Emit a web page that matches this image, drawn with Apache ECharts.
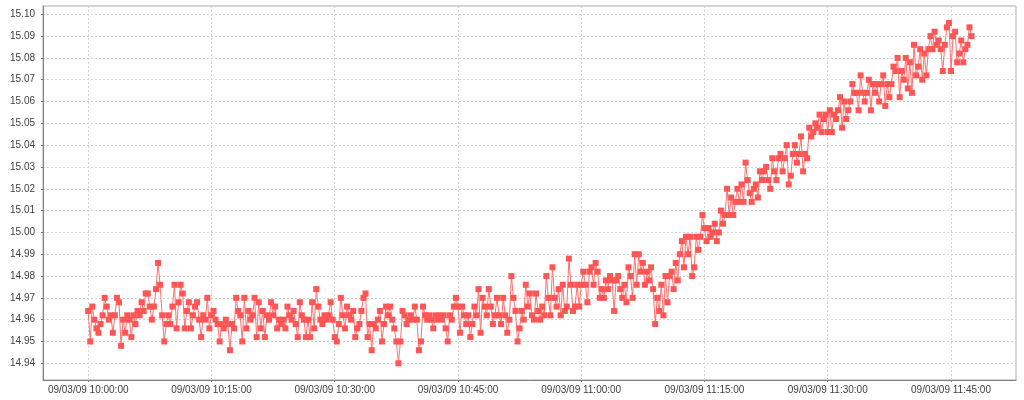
<!DOCTYPE html>
<html>
<head>
<meta charset="utf-8">
<script src="https://cdn.jsdelivr.net/npm/echarts@6/dist/echarts.min.js"></script>
<style>
html,body{margin:0;padding:0;background:#fff;}
#chart{width:1024px;height:400px;}
</style>
</head>
<body>
<div id="chart"></div>
<script>
// Sampling: one value every 15 seconds starting 09/03/09 10:00:00
const startTime = new Date(2009, 2, 9, 10, 0, 0).getTime();
const stepMs = 15000;

const block1000 = [
14.964, 14.950, 14.966, 14.960, 14.956, 14.954, 14.958, 14.962, 14.970, 14.966,
14.960, 14.962, 14.954, 14.962, 14.970, 14.968, 14.948, 14.960, 14.954, 14.962,
14.960, 14.952, 14.962, 14.958, 14.964, 14.962, 14.968, 14.964, 14.972, 14.972,
14.966, 14.960, 14.966, 14.974, 14.986, 14.976, 14.962, 14.950, 14.958, 14.962,
14.958, 14.966, 14.976, 14.956, 14.968, 14.976, 14.972, 14.956, 14.964, 14.968,
14.956, 14.962, 14.966, 14.968, 14.960, 14.952, 14.962, 14.960, 14.970, 14.956
];
const block1015 = [
14.962, 14.964, 14.960, 14.958, 14.950, 14.958, 14.956, 14.960, 14.958, 14.946,
14.958, 14.956, 14.970, 14.964, 14.962, 14.950, 14.970, 14.956, 14.964, 14.960,
14.962, 14.970, 14.952, 14.968, 14.956, 14.964, 14.952, 14.962, 14.960, 14.968,
14.962, 14.966, 14.956, 14.960, 14.958, 14.960, 14.956, 14.966, 14.962, 14.960,
14.964, 14.958, 14.952, 14.968, 14.962, 14.960, 14.952, 14.960, 14.952, 14.968,
14.956, 14.974, 14.966, 14.960, 14.958, 14.962, 14.960, 14.962, 14.968, 14.960
];
const block1030 = [
14.952, 14.950, 14.958, 14.970, 14.962, 14.956, 14.966, 14.962, 14.960, 14.964,
14.952, 14.956, 14.958, 14.964, 14.970, 14.972, 14.952, 14.958, 14.946, 14.958,
14.956, 14.960, 14.964, 14.950, 14.958, 14.966, 14.962, 14.966, 14.960, 14.956,
14.950, 14.940, 14.950, 14.964, 14.962, 14.958, 14.960, 14.962, 14.960, 14.966,
14.960, 14.946, 14.950, 14.966, 14.962, 14.960, 14.962, 14.960, 14.956, 14.962,
14.960, 14.962, 14.960, 14.962, 14.956, 14.950, 14.962, 14.960, 14.966, 14.970
];
const block1045 = [
14.966, 14.954, 14.966, 14.962, 14.958, 14.962, 14.952, 14.958, 14.966, 14.962,
14.974, 14.954, 14.970, 14.966, 14.962, 14.974, 14.966, 14.958, 14.962, 14.970,
14.962, 14.958, 14.970, 14.962, 14.954, 14.960, 14.980, 14.970, 14.964, 14.950,
14.956, 14.964, 14.960, 14.976, 14.966, 14.972, 14.962, 14.960, 14.972, 14.964,
14.960, 14.966, 14.962, 14.980, 14.970, 14.962, 14.984, 14.970, 14.966, 14.974,
14.962, 14.976, 14.964, 14.966, 14.988, 14.976, 14.964, 14.966, 14.976, 14.966
];
const block1100 = [
14.976, 14.982, 14.976, 14.968, 14.982, 14.984, 14.976, 14.986, 14.982, 14.970,
14.974, 14.970, 14.978, 14.974, 14.980, 14.978, 14.964, 14.978, 14.980, 14.974,
14.970, 14.976, 14.968, 14.984, 14.980, 14.970, 14.990, 14.976, 14.990, 14.982,
14.986, 14.976, 14.982, 14.978, 14.984, 14.974, 14.958, 14.970, 14.964, 14.976,
14.962, 14.980, 14.968, 14.980, 14.982, 14.974, 14.986, 14.978, 14.990, 14.996,
14.984, 14.998, 14.990, 14.998, 14.980, 14.984, 14.998, 14.992, 14.998, 15.008
];
const block1115 = [
15.002, 14.996, 15.002, 14.998, 15.000, 15.004, 14.996, 15.000, 15.010, 15.004,
15.008, 15.020, 15.008, 15.016, 15.008, 15.014, 15.020, 15.014, 15.022, 15.014,
15.032, 15.024, 15.018, 15.014, 15.020, 15.022, 15.016, 15.028, 15.024, 15.028,
15.030, 15.024, 15.020, 15.034, 15.028, 15.024, 15.034, 15.036, 15.028, 15.034,
15.040, 15.022, 15.026, 15.036, 15.040, 15.032, 15.036, 15.044, 15.028, 15.036,
15.034, 15.048, 15.044, 15.046, 15.050, 15.048, 15.054, 15.046, 15.052, 15.054
];
const block1130 = [
15.046, 15.056, 15.046, 15.054, 15.052, 15.056, 15.062, 15.048, 15.060, 15.052,
15.056, 15.060, 15.068, 15.064, 15.064, 15.056, 15.072, 15.064, 15.060, 15.064,
15.070, 15.056, 15.068, 15.064, 15.068, 15.060, 15.068, 15.072, 15.058, 15.068,
15.062, 15.068, 15.076, 15.074, 15.080, 15.062, 15.074, 15.070, 15.080, 15.066,
15.078, 15.064, 15.086, 15.072, 15.076, 15.084, 15.070, 15.082, 15.072, 15.084,
15.090, 15.084, 15.092, 15.086, 15.088, 15.084, 15.074, 15.086, 15.094, 15.096
];
const block1145 = [
15.074, 15.090, 15.092, 15.078, 15.082, 15.088, 15.078, 15.084, 15.086, 15.094, 15.090
];

// Tick minutes after 10:00:00 (every 15 minutes)
const tickMinutes = [0, 15, 30, 45, 60, 75, 90, 105];

const values = [].concat(block1000, block1015, block1030, block1045, block1100, block1115, block1130, block1145);
const seriesData = values.map((v, i) => [startTime + i * stepMs, v]);
const tickValues = tickMinutes.map(m => startTime + m * 60000);

function pad(n) { return (n < 10 ? '0' : '') + n; }
function fmtTime(v) {
  const d = new Date(v);
  return pad(d.getDate()) + '/' + pad(d.getMonth() + 1) + '/' + pad(d.getFullYear() % 100) + ' ' +
    pad(d.getHours()) + ':' + pad(d.getMinutes()) + ':' + pad(d.getSeconds());
}

const chart = echarts.init(document.getElementById('chart'), null, { renderer: 'canvas' });
const FONT = 'Liberation Sans';
chart.setOption({
  animation: false,
  backgroundColor: '#ffffff',
  grid: {
    left: 43, right: 8, top: 6, bottom: 20,
    show: true, borderColor: '#a8a8a8', borderWidth: 1, backgroundColor: '#ffffff',
    containLabel: false
  },
  xAxis: {
    type: 'value',
    min: startTime - 330000,
    max: startTime + 6774600,
    axisLine: { show: true, lineStyle: { color: '#808080', width: 1 } },
    axisTick: { show: true, length: 2, customValues: tickValues, lineStyle: { color: '#808080' } },
    axisLabel: {
      customValues: tickValues,
      formatter: fmtTime, fontFamily: FONT, fontSize: 10, color: '#404040', margin: 5,
      hideOverlap: false
    },
    splitLine: { show: true, lineStyle: { color: '#d4d4d4', type: [2, 2], width: 1 } }
  },
  yAxis: {
    type: 'value',
    min: 14.93234,
    max: 15.1038,
    splitNumber: 17,
    axisLine: { show: true, lineStyle: { color: '#808080', width: 1 } },
    axisTick: { show: true, length: 2, lineStyle: { color: '#808080' } },
    axisLabel: {
      formatter: v => v.toFixed(2), fontFamily: FONT, fontSize: 10, color: '#404040', margin: 8,
      showMinLabel: false, showMaxLabel: false
    },
    splitLine: { show: true, lineStyle: { color: '#d4d4d4', type: [2, 2], width: 1 } }
  },
  series: [{
    type: 'line',
    data: seriesData,
    showSymbol: true,
    showAllSymbol: true,
    symbol: 'rect',
    symbolSize: 6,
    itemStyle: { color: '#ff5555' },
    lineStyle: { color: '#ff7070', width: 1 },
    emphasis: { disabled: true }
  }]
});
</script>
</body>
</html>
